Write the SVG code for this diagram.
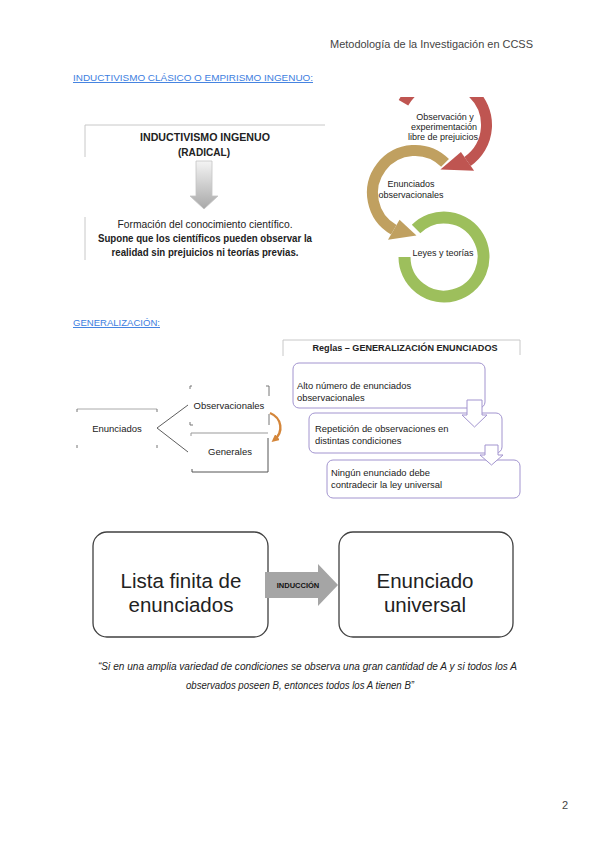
<svg xmlns="http://www.w3.org/2000/svg" width="600" height="848" viewBox="0 0 600 848">
<style>
.t{font-family:"Liberation Sans",Arial,sans-serif;fill:#222}
.b{font-weight:bold}
.i{font-style:italic}
.blue{fill:#3d7ee0;text-decoration:underline}
.thin{stroke:#c8c8c8;stroke-width:1;fill:none}
.corner{stroke:#777;stroke-width:1;fill:none}
.rule{fill:#fff;stroke:#a294cf;stroke-width:1}
.rt{font-size:9.4px}
.big{fill:#fff;stroke:#404040;stroke-width:1.3}
</style>
<defs>
<linearGradient id="gArrow" x1="0" y1="0" x2="0" y2="1">
<stop offset="0" stop-color="#f4f4f4"/>
<stop offset="1" stop-color="#a8a8a8"/>
</linearGradient>
<marker id="mOr" viewBox="0 0 10 10" refX="6" refY="5" markerWidth="3.2" markerHeight="3.2" orient="auto">
<path d="M0,0 L10,5 L0,10 Z" fill="#d4863a"/>
</marker>
<clipPath id="cpCirc"><rect x="340" y="97" width="180" height="206"/></clipPath>
</defs>
<rect width="600" height="848" fill="#fff"/>

<g id="header">
<text class="t" x="330" y="48" font-size="11" style="fill:#444" textLength="203" lengthAdjust="spacingAndGlyphs">Metodología de la Investigación en CCSS</text>
<text class="t" x="562" y="809" font-size="11" style="fill:#444">2</text>
</g>

<g id="title-inductivismo">
<text class="t blue" x="73" y="81" font-size="9.5" textLength="240" lengthAdjust="spacingAndGlyphs">INDUCTIVISMO CLÁSICO O EMPIRISMO INGENUO:</text>
</g>

<g id="node-ingenuo">
<path class="thin" d="M85,157 V125 H325"/>
<text class="t b" x="205" y="141" font-size="10.5" text-anchor="middle" textLength="130" lengthAdjust="spacingAndGlyphs">INDUCTIVISMO INGENUO</text>
<text class="t b" x="204" y="156" font-size="10.5" text-anchor="middle" textLength="52" lengthAdjust="spacingAndGlyphs">(RADICAL)</text>
</g>

<g id="node-formacion">
<path class="thin" d="M85,217 V260"/>
<text class="t" x="205" y="228" font-size="10" text-anchor="middle" textLength="175" lengthAdjust="spacingAndGlyphs">Formación del conocimiento científico.</text>
<text class="t b" x="205" y="242" font-size="10" text-anchor="middle" textLength="214" lengthAdjust="spacingAndGlyphs">Supone que los científicos pueden observar la</text>
<text class="t b" x="205" y="256" font-size="10" text-anchor="middle" textLength="187" lengthAdjust="spacingAndGlyphs">realidad sin prejuicios ni teorías previas.</text>
</g>

<g id="cycle" clip-path="url(#cpCirc)">
<g id="arc-leyes">
<path d="M416.07,229.07 A39.5,39.5 0 1 1 404.5,257" fill="none" stroke="#9dbf5c" stroke-width="12"/>
</g>
<g id="arc-enunciados">
<path d="M445.05,162.95 A42.5,42.5 0 1 0 393.75,229.8" fill="none" stroke="#c0a060" stroke-width="11"/>
<polygon points="399.5,219.85 388,239.76 416.48,235.47" fill="#c0a060"/>
</g>
<g id="arc-observacion">
<path d="M403.46,102.75 A44.5,44.5 0 1 1 467.52,161.45" fill="none" stroke="#bf5551" stroke-width="11"/>
<polygon points="460.93,152.03 474.12,170.87 440.45,169.47" fill="#bf5551"/>
</g>
</g>
<g id="cycle-labels">
<text class="t" x="445" y="120" font-size="9" text-anchor="middle">Observación y</text>
<text class="t" x="444" y="130" font-size="9" text-anchor="middle">experimentación</text>
<text class="t" x="443" y="140" font-size="9" text-anchor="middle">libre de prejuicios</text>
<text class="t" x="411" y="187" font-size="9" text-anchor="middle">Enunciados</text>
<text class="t" x="411" y="198" font-size="9" text-anchor="middle">observacionales</text>
<text class="t" x="443" y="256" font-size="9" text-anchor="middle">Leyes y teorías</text>
</g>

<g id="title-generalizacion">
<text class="t blue" x="73" y="326" font-size="9.5" textLength="87" lengthAdjust="spacingAndGlyphs">GENERALIZACIÓN:</text>
</g>

<g id="node-enunciados">
<path class="thin" d="M77,409 H157" style="stroke:#aaa"/>
<path class="corner" d="M77,412 V409 M157,412 V409 M77,445 V448 M157,445 V448"/>
<text class="t" x="117" y="432" font-size="9.5" text-anchor="middle">Enunciados</text>
</g>

<g id="node-observacionales">
<path class="corner" d="M190,389 V386 H192 M266,386 H269 V396 M190,422 V425 H193 M269,414 V425"/>
<text class="t" x="229" y="409" font-size="9.5" text-anchor="middle">Observacionales</text>
</g>

<g id="node-generales">
<path class="thin" d="M191,436 V433 H268" style="stroke:#999"/>
<path d="M268,438 V472 H192 V469" fill="none" stroke="#555" stroke-width="1"/>
<text class="t" x="230" y="455" font-size="9.5" text-anchor="middle">Generales</text>
</g>

<g id="node-reglas">
<path class="thin" d="M283,356 V340 H520 V355"/>
<text class="t b" x="405" y="351" font-size="8.5" text-anchor="middle" textLength="185" lengthAdjust="spacingAndGlyphs">Reglas – GENERALIZACIÓN ENUNCIADOS</text>
</g>

<g id="node-regla1">
<rect class="rule" x="293" y="363" width="192" height="45" rx="6"/>
<text class="t rt" x="297" y="389">Alto número de enunciados</text>
<text class="t rt" x="297" y="401">observacionales</text>
</g>
<g id="node-regla2">
<rect class="rule" x="309" y="413" width="193" height="40" rx="6"/>
<text class="t rt" x="315" y="432">Repetición de observaciones en</text>
<text class="t rt" x="315" y="444">distintas condiciones</text>
</g>
<g id="node-regla3">
<rect class="rule" x="327" y="460" width="193" height="38" rx="6"/>
<text class="t rt" x="331" y="476">Ningún enunciado debe</text>
<text class="t rt" x="331" y="488">contradecir la ley universal</text>
</g>

<g id="node-lista">
<rect class="big" x="93" y="532" width="175" height="105" rx="14"/>
<text class="t" x="181" y="588" font-size="20.5" text-anchor="middle">Lista finita de</text>
<text class="t" x="181" y="612" font-size="20.5" text-anchor="middle">enunciados</text>
</g>
<g id="node-universal">
<rect class="big" x="339" y="532" width="174" height="105" rx="14"/>
<text class="t" x="425" y="588" font-size="20.5" text-anchor="middle">Enunciado</text>
<text class="t" x="425" y="612" font-size="20.5" text-anchor="middle">universal</text>
</g>

<g id="quote">
<text class="t i" x="98" y="670" font-size="10" textLength="419" lengthAdjust="spacingAndGlyphs">“Si en una amplia variedad de condiciones se observa una gran cantidad de A y si todos los A</text>
<text class="t i" x="186" y="689" font-size="10" textLength="228" lengthAdjust="spacingAndGlyphs">observados poseen B, entonces todos los A tienen B”</text>
</g>

<g id="connectors">
<path d="M196,161 H212 V196 H218 L204,209 L190,196 H196 Z" fill="url(#gArrow)" stroke="#c4c4c4" stroke-width="0.8"/>
<path d="M188,405 L157,428 L188,452" fill="none" stroke="#333" stroke-width="0.8"/>
<path d="M270,413 C282,418 284,432 274,440" fill="none" stroke="#d4863a" stroke-width="2.4" marker-end="url(#mOr)"/>
<path d="M467,400 H482 V415 H487 L474.5,427 L462,415 H467 Z" fill="#fff" stroke="#a294cf" stroke-width="1"/>
<path d="M485,445 H498 V455 H503 L491.5,465 L480,455 H485 Z" fill="#fff" stroke="#a294cf" stroke-width="1"/>
<polygon points="265,572 318,572 318,564 338,585 318,606 318,598 265,598" fill="#a5a5a5"/>
<text class="t b" x="298" y="588" font-size="7.5" text-anchor="middle" style="fill:#111">INDUCCIÓN</text>
</g>
</svg>
